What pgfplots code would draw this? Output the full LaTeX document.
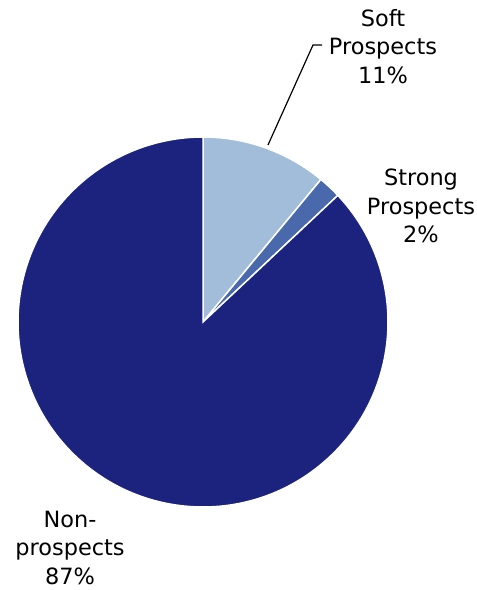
\documentclass[border=0pt]{standalone}
\usepackage{fontspec}
\setmainfont{DejaVu Sans}
\usepackage{pgfplots}
\pgfplotsset{compat=1.18}

\definecolor{nonpros}{HTML}{1B237F}
\definecolor{softpros}{HTML}{A2BDD9}
\definecolor{strongpros}{HTML}{4A69AD}

% shares in percent
\def\softval{11}
\def\strongval{2}
\def\nonval{87}

\tikzset{lbl/.style={font=\fontsize{22.5}{28.5}\selectfont, align=center, inner sep=0pt, text=black, anchor=north}}

\begin{document}
\begin{tikzpicture}
\begin{axis}[
    anchor=origin, at={(0,0)},
    x=1bp, y=1bp,
    xmin=0, xmax=477, ymin=0, ymax=590,
    hide axis, clip=false,
]
\pgfmathsetmacro{\aA}{90}
\pgfmathsetmacro{\aB}{\aA-3.6*\softval}
\pgfmathsetmacro{\aC}{\aB-3.6*\strongval}
\pgfmathsetmacro{\aD}{\aC-3.6*\nonval}

% slices (clockwise from 12 o'clock)
\filldraw[fill=softpros, draw=white, line width=1.5bp]
  (axis cs:203,268) -- ++(\aA:185bp) arc[start angle=\aA, end angle=\aB, radius=185bp] -- cycle;
\filldraw[fill=strongpros, draw=white, line width=1.5bp]
  (axis cs:203,268) -- ++(\aB:185bp) arc[start angle=\aB, end angle=\aC, radius=185bp] -- cycle;
\filldraw[fill=nonpros, draw=white, line width=1.5bp]
  (axis cs:203,268) -- ++(\aC:185bp) arc[start angle=\aC, end angle=\aD, radius=185bp] -- cycle;

% leader line
\draw[black, line width=1.2bp] (axis cs:268,445) -- (axis cs:313,545) -- (axis cs:322,545);

% labels
\node[lbl] at (axis cs:383,581) {Soft\\Prospects\\11\%};
\node[lbl] at (axis cs:421,421) {Strong\\Prospects\\2\%};
\node[lbl] at (axis cs:70,79) {Non-\\prospects\\87\%};
\end{axis}
\pgfresetboundingbox
\path[use as bounding box] (0,0) rectangle (477bp,590bp);
\end{tikzpicture}
\end{document}
